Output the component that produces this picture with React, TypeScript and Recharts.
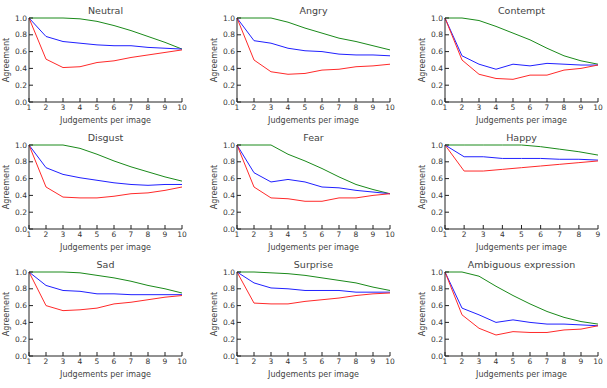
import { LineChart, Line, XAxis, YAxis } from "recharts";

// x positions: number of judgements per image
const judgements = [1, 2, 3, 4, 5, 6, 7, 8, 9, 10];
const judgementsHappy = [1, 2, 3, 4, 5, 6, 7, 8, 9];
const agreementTicks = [0, 0.2, 0.4, 0.6, 0.8, 1.0];

// green = upper, blue = mean, red = lower
const neutralUpper = [1, 1, 1, 0.99, 0.96, 0.91, 0.85, 0.78, 0.71, 0.63];
const neutralMean = [1, 0.78, 0.72, 0.7, 0.68, 0.67, 0.67, 0.65, 0.64, 0.63];
const neutralLower = [1, 0.51, 0.41, 0.42, 0.47, 0.49, 0.53, 0.56, 0.59, 0.62];

const angryUpper = [1, 1, 1, 0.95, 0.88, 0.82, 0.76, 0.72, 0.67, 0.62];
const angryMean = [1, 0.73, 0.7, 0.64, 0.61, 0.6, 0.57, 0.56, 0.56, 0.55];
const angryLower = [1, 0.5, 0.36, 0.33, 0.34, 0.38, 0.39, 0.42, 0.43, 0.45];

const contemptUpper = [1, 1, 0.97, 0.9, 0.82, 0.74, 0.64, 0.55, 0.49, 0.45];
const contemptMean = [1, 0.55, 0.45, 0.39, 0.45, 0.43, 0.46, 0.45, 0.44, 0.44];
const contemptLower = [1, 0.5, 0.33, 0.28, 0.27, 0.32, 0.32, 0.38, 0.4, 0.44];

const disgustUpper = [1, 1, 1, 0.96, 0.89, 0.81, 0.74, 0.68, 0.62, 0.57];
const disgustMean = [1, 0.73, 0.65, 0.61, 0.58, 0.55, 0.53, 0.52, 0.53, 0.53];
const disgustLower = [1, 0.5, 0.38, 0.37, 0.37, 0.39, 0.42, 0.43, 0.46, 0.5];

const fearUpper = [1, 1, 1, 0.89, 0.81, 0.72, 0.62, 0.53, 0.47, 0.42];
const fearMean = [1, 0.67, 0.56, 0.59, 0.56, 0.5, 0.49, 0.46, 0.44, 0.42];
const fearLower = [1, 0.5, 0.37, 0.36, 0.33, 0.33, 0.37, 0.37, 0.4, 0.42];

const happyUpper = [1, 1, 1, 1, 1, 0.98, 0.95, 0.92, 0.88];
const happyMean = [1, 0.86, 0.86, 0.84, 0.84, 0.84, 0.83, 0.83, 0.82];
const happyLower = [1, 0.69, 0.69, 0.71, 0.73, 0.75, 0.77, 0.79, 0.81];

const sadUpper = [1, 1, 1, 0.99, 0.96, 0.93, 0.89, 0.84, 0.8, 0.75];
const sadMean = [1, 0.84, 0.78, 0.77, 0.74, 0.74, 0.73, 0.73, 0.73, 0.73];
const sadLower = [1, 0.6, 0.54, 0.55, 0.57, 0.62, 0.64, 0.67, 0.7, 0.72];

const surpriseUpper = [1, 1, 0.99, 0.98, 0.96, 0.93, 0.9, 0.87, 0.82, 0.78];
const surpriseMean = [1, 0.87, 0.81, 0.8, 0.78, 0.78, 0.78, 0.76, 0.76, 0.76];
const surpriseLower = [1, 0.63, 0.62, 0.62, 0.65, 0.67, 0.69, 0.72, 0.74, 0.75];

const ambiguousUpper = [1, 1, 0.95, 0.83, 0.72, 0.62, 0.53, 0.46, 0.41, 0.38];
const ambiguousMean = [1, 0.57, 0.49, 0.4, 0.43, 0.4, 0.38, 0.38, 0.37, 0.36];
const ambiguousLower = [1, 0.49, 0.33, 0.25, 0.29, 0.28, 0.28, 0.31, 0.32, 0.36];

const FONT = "'DejaVu Sans', sans-serif";
const INK = "#333";
const LABEL_INK = "#444";
const PLOT_W = 153;
const PLOT_H = 84;
const Y_AXIS_W = 29;
const MARGIN_TOP = 18;
const MARGIN_RIGHT = 6;
const X_AXIS_H = 24;

const COL_LEFT = [29, 237, 445];
const ROW_TOP = [18, 145, 272];

type PanelSpec = {
  title: string;
  xs: number[];
  upper: number[];
  mean: number[];
  lower: number[];
};

const panels: PanelSpec[] = [
  { title: "Neutral", xs: judgements, upper: neutralUpper, mean: neutralMean, lower: neutralLower },
  { title: "Angry", xs: judgements, upper: angryUpper, mean: angryMean, lower: angryLower },
  { title: "Contempt", xs: judgements, upper: contemptUpper, mean: contemptMean, lower: contemptLower },
  { title: "Disgust", xs: judgements, upper: disgustUpper, mean: disgustMean, lower: disgustLower },
  { title: "Fear", xs: judgements, upper: fearUpper, mean: fearMean, lower: fearLower },
  { title: "Happy", xs: judgementsHappy, upper: happyUpper, mean: happyMean, lower: happyLower },
  { title: "Sad", xs: judgements, upper: sadUpper, mean: sadMean, lower: sadLower },
  { title: "Surprise", xs: judgements, upper: surpriseUpper, mean: surpriseMean, lower: surpriseLower },
  {
    title: "Ambiguous expression",
    xs: judgements,
    upper: ambiguousUpper,
    mean: ambiguousMean,
    lower: ambiguousLower,
  },
];

const tickStyle = { fill: INK, fontSize: 7.5, fontFamily: FONT };
const labelStyle = { fill: LABEL_INK, fontSize: 8, fontFamily: FONT };

const Panel = ({ spec, left, top }: { spec: PanelSpec; left: number; top: number }) => {
  const data = spec.xs.map((x, i) => ({
    judgements: x,
    upper: spec.upper[i],
    mean: spec.mean[i],
    lower: spec.lower[i],
  }));
  const xDomain = [spec.xs[0], spec.xs[spec.xs.length - 1]];

  return (
    <div style={{ position: "absolute", left: left - Y_AXIS_W, top: top - MARGIN_TOP }}>
      <div
        style={{
          position: "absolute",
          left: Y_AXIS_W,
          top: 5,
          width: PLOT_W,
          textAlign: "center",
          fontSize: 9.5,
          lineHeight: "11px",
          whiteSpace: "nowrap",
          color: LABEL_INK,
        }}
      >
        {spec.title}
      </div>
      <LineChart
        width={Y_AXIS_W + PLOT_W + MARGIN_RIGHT}
        height={MARGIN_TOP + PLOT_H + X_AXIS_H}
        data={data}
        margin={{ top: MARGIN_TOP, right: MARGIN_RIGHT, bottom: 0, left: 0 }}
      >
        <XAxis
          xAxisId="bottom"
          dataKey="judgements"
          type="number"
          domain={xDomain}
          ticks={spec.xs}
          interval={0}
          height={X_AXIS_H}
          tickSize={-4}
          tickMargin={7}
          tick={tickStyle}
          stroke="#222"
          label={{ value: "Judgements per image", position: "insideBottom", offset: 3, style: labelStyle }}
        />
        <XAxis
          xAxisId="top"
          dataKey="judgements"
          orientation="top"
          type="number"
          domain={xDomain}
          ticks={spec.xs}
          height={0}
          tickSize={-4}
          tick={false}
          stroke="#222"
        />
        <YAxis
          yAxisId="left"
          type="number"
          domain={[0, 1]}
          ticks={agreementTicks}
          interval={0}
          width={Y_AXIS_W}
          tickSize={-4}
          tickMargin={6}
          tick={tickStyle}
          tickFormatter={(v: number) => v.toFixed(1)}
          stroke="#222"
          label={{
            value: "Agreement",
            angle: -90,
            position: "insideLeft",
            offset: 6,
            style: { ...labelStyle, textAnchor: "middle" },
          }}
        />
        <YAxis
          yAxisId="right"
          orientation="right"
          type="number"
          domain={[0, 1]}
          ticks={agreementTicks}
          width={0}
          tickSize={-4}
          tick={false}
          stroke="#222"
        />
        <Line xAxisId="bottom" yAxisId="left" dataKey="upper" stroke="#1a8a1a" strokeWidth={1} dot={false} isAnimationActive={false} />
        <Line xAxisId="bottom" yAxisId="left" dataKey="mean" stroke="#2020ff" strokeWidth={1} dot={false} isAnimationActive={false} />
        <Line xAxisId="bottom" yAxisId="left" dataKey="lower" stroke="#ff2a2a" strokeWidth={1} dot={false} isAnimationActive={false} />
      </LineChart>
    </div>
  );
};

export default function App() {
  return (
    <div
      style={{
        position: "absolute",
        left: 0,
        top: 0,
        width: 607,
        height: 388,
        background: "#fff",
        fontFamily: FONT,
        color: INK,
      }}
    >
      {panels.map((spec, i) => (
        <Panel key={spec.title} spec={spec} left={COL_LEFT[i % 3]} top={ROW_TOP[Math.floor(i / 3)]} />
      ))}
    </div>
  );
}
